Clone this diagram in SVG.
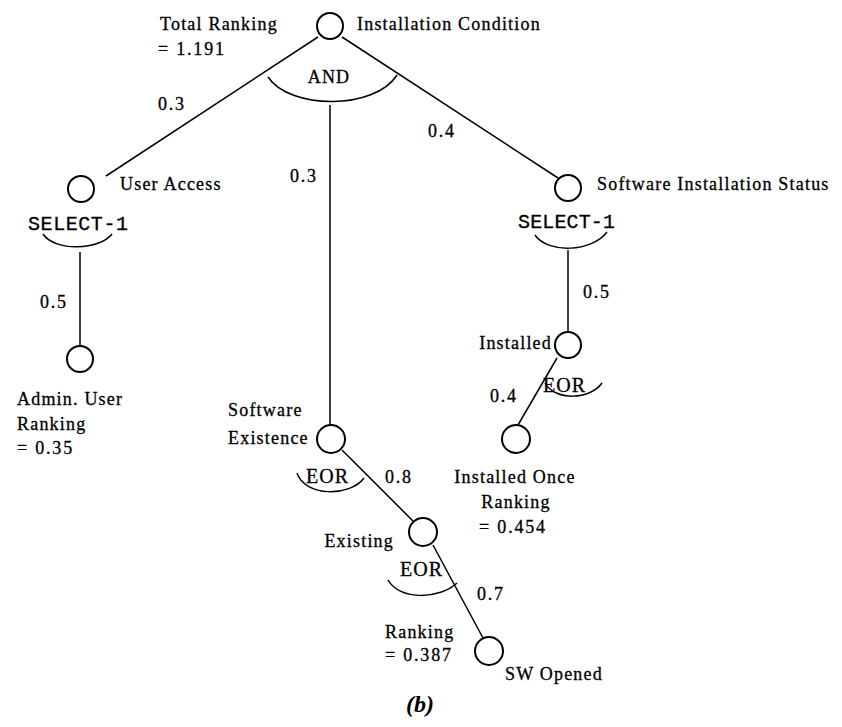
<svg xmlns="http://www.w3.org/2000/svg" width="842" height="727" viewBox="0 0 842 727">
  <style>
    .node { fill: #fff; stroke: #000; stroke-width: 2; }
    .edge { fill: none; stroke: #000; stroke-width: 1.5; }
    .arc { fill: none; stroke: #000; stroke-width: 1.5; }
    .lbl { font-family: "Liberation Serif", "Times New Roman", serif; font-size: 18px; letter-spacing: 1.2px; fill: #000; stroke: #000; stroke-width: 0.3px; }
    .num { font-family: "Liberation Serif", "Times New Roman", serif; font-size: 18px; letter-spacing: 1.8px; fill: #000; stroke: #000; stroke-width: 0.3px; }
    .op { font-family: "Liberation Mono", "Courier New", monospace; font-size: 20px; fill: #000; stroke: #000; stroke-width: 0.3px; }
    .eor { font-family: "Liberation Serif", "Times New Roman", serif; font-size: 20px; letter-spacing: 1px; fill: #000; stroke: #000; stroke-width: 0.3px; }
    .cap { font-family: "Liberation Serif", "Times New Roman", serif; font-size: 24px; font-weight: bold; font-style: italic; fill: #000; }
  </style>
  <rect width="842" height="727" fill="#fff"/>

  <!-- connectors and operator arcs -->
  <g id="connectors">
    <line class="edge" x1="318" y1="37" x2="106" y2="176"/>
    <line class="edge" x1="342" y1="37" x2="558" y2="178"/>
    <line class="edge" x1="330" y1="105" x2="330" y2="425"/>
    <line class="edge" x1="80" y1="252" x2="80" y2="345"/>
    <line class="edge" x1="568" y1="250" x2="568" y2="332"/>
    <line class="edge" x1="557" y1="358" x2="518" y2="425"/>
    <line class="edge" x1="342" y1="450" x2="413" y2="521"/>
    <line class="edge" x1="433" y1="545" x2="483" y2="638"/>
    <path class="arc" d="M268,77 C290,110 375,110 397,75"/>
    <path class="arc" d="M43,234 C55,252 100,250 112,234"/>
    <path class="arc" d="M535,235 C548,254 592,252 607,232"/>
    <path class="arc" d="M545,383 C555,401 590,400 602,383"/>
    <path class="arc" d="M297,473 C305,497 350,497 364,478"/>
    <path class="arc" d="M388,580 C400,601 440,599 457,583"/>
  </g>

  <g id="installation-condition">
    <circle class="node" cx="330" cy="26" r="13"/>
    <text class="lbl" x="357" y="30">Installation Condition</text>
    <text class="lbl" x="160" y="30">Total Ranking</text>
    <text class="num" x="158" y="55">= 1.191</text>
    <text class="lbl" x="329" y="83" text-anchor="middle">AND</text>
  </g>

  <g id="user-access">
    <circle class="node" cx="81" cy="189" r="13"/>
    <text class="lbl" x="120" y="190">User Access</text>
    <text class="op" x="28" y="230" textLength="100">SELECT-1</text>
  </g>

  <g id="admin-user">
    <circle class="node" cx="80" cy="359" r="13"/>
    <text class="lbl" x="17" y="405">Admin. User</text>
    <text class="lbl" x="17" y="430">Ranking</text>
    <text class="num" x="17" y="454">= 0.35</text>
  </g>

  <g id="software-installation-status">
    <circle class="node" cx="568" cy="188" r="13"/>
    <text class="lbl" x="597" y="190">Software Installation Status</text>
    <text class="op" x="518" y="228" textLength="97">SELECT-1</text>
  </g>

  <g id="installed">
    <circle class="node" cx="568" cy="345" r="13"/>
    <text class="lbl" x="552" y="349" text-anchor="end">Installed</text>
    <text class="eor" x="543" y="392">EOR</text>
  </g>

  <g id="installed-once">
    <circle class="node" cx="516" cy="439" r="14"/>
    <text class="lbl" x="515" y="483" text-anchor="middle">Installed Once</text>
    <text class="lbl" x="516" y="508" text-anchor="middle">Ranking</text>
    <text class="num" x="513" y="533" text-anchor="middle">= 0.454</text>
  </g>

  <g id="software-existence">
    <circle class="node" cx="331" cy="439" r="14"/>
    <text class="lbl" x="228" y="416">Software</text>
    <text class="lbl" x="228" y="444">Existence</text>
    <text class="eor" x="306" y="483">EOR</text>
  </g>

  <g id="existing">
    <circle class="node" cx="423" cy="532" r="14"/>
    <text class="lbl" x="394" y="547" text-anchor="end">Existing</text>
    <text class="eor" x="400" y="576">EOR</text>
    <text class="lbl" x="385" y="638">Ranking</text>
    <text class="num" x="385" y="661">= 0.387</text>
  </g>

  <g id="sw-opened">
    <circle class="node" cx="489" cy="651" r="14"/>
    <text class="lbl" x="505" y="680">SW Opened</text>
  </g>

  <!-- edge weights -->
  <g id="weights">
    <text class="num" x="158" y="110">0.3</text>
    <text class="num" x="290" y="182">0.3</text>
    <text class="num" x="428" y="137">0.4</text>
    <text class="num" x="40" y="308">0.5</text>
    <text class="num" x="583" y="298">0.5</text>
    <text class="num" x="490" y="402">0.4</text>
    <text class="num" x="385" y="483">0.8</text>
    <text class="num" x="477" y="600">0.7</text>
  </g>

  <text class="cap" x="420" y="712" text-anchor="middle">(b)</text>
</svg>
